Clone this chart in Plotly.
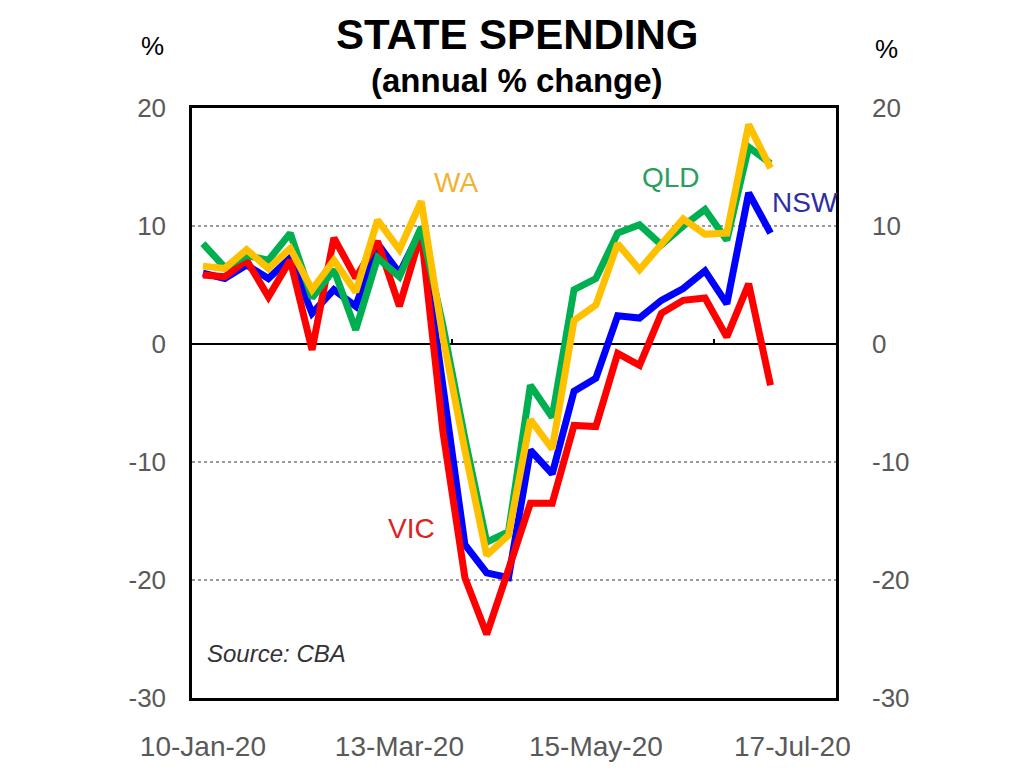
import plotly.graph_objects as go

# ---- data (weekly, annual % change) ----
dates = [
    "2020-01-10", "2020-01-17", "2020-01-24", "2020-01-31", "2020-02-07", "2020-02-14",
    "2020-02-21", "2020-02-28", "2020-03-06", "2020-03-13", "2020-03-20", "2020-03-27",
    "2020-04-03", "2020-04-10", "2020-04-17", "2020-04-24", "2020-05-01", "2020-05-08",
    "2020-05-15", "2020-05-22", "2020-05-29", "2020-06-05", "2020-06-12", "2020-06-19",
    "2020-06-26", "2020-07-03", "2020-07-10",
]

nsw = [6.0, 5.55, 6.7, 5.55, 7.3, 2.6, 4.6, 3.2, 8.5, 6.0, 9.7, -3.3, -17.0, -19.4, -19.8,
       -9.0, -11.0, -4.0, -2.9, 2.4, 2.2, 3.7, 4.7, 6.2, 3.4, 12.8, 9.4]
vic = [5.85, 5.7, 7.1, 4.0, 7.1, -0.5, 9.0, 5.6, 8.7, 3.2, 9.4, -7.5, -19.8, -24.6, -19.1,
       -13.5, -13.5, -6.9, -7.0, -0.8, -1.8, 2.6, 3.7, 3.9, 0.6, 5.1, -3.5]
qld = [8.5, 6.5, 7.5, 7.1, 9.4, 3.9, 6.3, 1.2, 7.3, 5.7, 9.9, 1.5, -8.0, -16.8, -15.9,
       -3.5, -6.2, 4.6, 5.55, 9.4, 10.1, 8.4, 10.0, 11.4, 8.8, 16.7, 15.3]
wa = [6.6, 6.4, 8.0, 6.4, 8.1, 4.6, 7.1, 4.4, 10.5, 8.0, 12.1, 0.5, -9.0, -17.9, -16.2,
      -6.4, -8.9, 2.0, 3.3, 8.5, 6.3, 8.4, 10.6, 9.3, 9.4, 18.6, 14.9]

x_tick_vals = ["2020-01-10", "2020-03-13", "2020-05-15", "2020-07-17"]
x_tick_text = ["10-Jan-20", "13-Mar-20", "15-May-20", "17-Jul-20"]
y_tick_vals = [-30, -20, -10, 0, 10, 20]
y_tick_text = ["-30", "-20", "-10", "0", "10", "20"]

# ---- styling ----
C_NSW = "#0000FF"
C_VIC = "#FF0000"
C_QLD = "#00B050"
C_WA = "#FFC000"
FONT = "Liberation Sans, Arial, sans-serif"
TICK_GREY = "#595959"
X_RANGE = ["2020-01-06 12:00", "2020-07-31"]
Y_RANGE = [-30, 20]
LW = 7

fig = go.Figure()
for name, vals, col in [("NSW", nsw, C_NSW), ("VIC", vic, C_VIC),
                        ("QLD", qld, C_QLD), ("WA", wa, C_WA)]:
    fig.add_trace(go.Scatter(x=dates, y=vals, mode="lines", name=name,
                             line=dict(color=col, width=LW), showlegend=False,
                             hoverinfo="x+y+name"))

# invisible helpers so the secondary axes are drawn
fig.add_trace(go.Scatter(x=dates, y=nsw, mode="lines", xaxis="x2", yaxis="y",
                         line=dict(width=0), opacity=0, showlegend=False, hoverinfo="skip"))
fig.add_trace(go.Scatter(x=dates, y=nsw, mode="lines", xaxis="x", yaxis="y2",
                         line=dict(width=0), opacity=0, showlegend=False, hoverinfo="skip"))

# page body has an 8px margin, so the figure is sized to fit the 1024x770 window
fig.update_layout(
    width=1008, height=754,
    margin=dict(l=184, r=180, t=100, b=64),
    paper_bgcolor="white", plot_bgcolor="white",
    font=dict(family=FONT, color=TICK_GREY),
    xaxis=dict(type="date", range=X_RANGE, tickvals=x_tick_vals, ticktext=x_tick_text,
               tickfont=dict(size=28, color=TICK_GREY), ticks="", ticklabelstandoff=22,
               showgrid=False, zeroline=False, showline=True, linecolor="black",
               linewidth=2.5, mirror=True, automargin=False),
    xaxis2=dict(type="date", range=X_RANGE, overlaying="x", anchor="free", position=0.6,
                side="top", tickvals=["2020-03-30", "2020-06-22"], ticks="outside",
                ticklen=5, tickwidth=2, tickcolor="black", showticklabels=False,
                showgrid=False, zeroline=False, showline=False, automargin=False),
    yaxis=dict(range=Y_RANGE, tickvals=y_tick_vals, ticktext=y_tick_text,
               tickfont=dict(size=26, color=TICK_GREY), ticks="", ticklabelstandoff=18,
               showgrid=True, gridcolor="#9a9a9a", griddash="dot", gridwidth=2,
               zeroline=True, zerolinecolor="black", zerolinewidth=2,
               showline=True, linecolor="black", linewidth=2.5, mirror=True,
               automargin=False),
    yaxis2=dict(range=Y_RANGE, tickvals=y_tick_vals, ticktext=y_tick_text, overlaying="y",
                side="right", tickfont=dict(size=26, color=TICK_GREY), ticks="",
                ticklabelstandoff=35, showgrid=False, zeroline=False, showline=False,
                automargin=False),
)

annotations = [
    dict(text="<b>STATE SPENDING</b>", x=0.505, y=1.125, xref="paper", yref="paper",
         showarrow=False, font=dict(size=42, color="black", family=FONT),
         xanchor="center", yanchor="middle"),
    dict(text="<b>(annual % change)</b>", x=0.505, y=1.046, xref="paper", yref="paper",
         showarrow=False, font=dict(size=33, color="black", family=FONT),
         xanchor="center", yanchor="middle"),
    dict(text="%", x=-0.062, y=1.105, xref="paper", yref="paper", showarrow=False,
         xanchor="center", yanchor="middle",
         font=dict(size=26, color="black", family=FONT)),
    dict(text="%", x=1.078, y=1.100, xref="paper", yref="paper", showarrow=False,
         xanchor="center", yanchor="middle",
         font=dict(size=26, color="black", family=FONT)),
    dict(text="WA", x="2020-03-31", y=13.7, xref="x", yref="y", showarrow=False,
         xanchor="center", yanchor="middle",
         font=dict(size=28, color="#F2B233", family=FONT)),
    dict(text="QLD", x="2020-06-08", y=14.15, xref="x", yref="y", showarrow=False,
         xanchor="center", yanchor="middle",
         font=dict(size=28, color="#2A9E5C", family=FONT)),
    dict(text="NSW", x="2020-07-21", y=11.95, xref="x", yref="y", showarrow=False,
         xanchor="center", yanchor="middle",
         font=dict(size=28, color="#2E2EA6", family=FONT)),
    dict(text="VIC", x="2020-03-17", y=-15.6, xref="x", yref="y", showarrow=False,
         xanchor="center", yanchor="middle",
         font=dict(size=28, color="#DD2222", family=FONT)),
    dict(text="<i>Source: CBA</i>", x=0.02, y=0.076, xref="paper", yref="paper",
         showarrow=False, xanchor="left", yanchor="middle",
         font=dict(size=24, color="#333333", family=FONT)),
]
fig.update_layout(annotations=annotations)

fig.write_html("out.html")
